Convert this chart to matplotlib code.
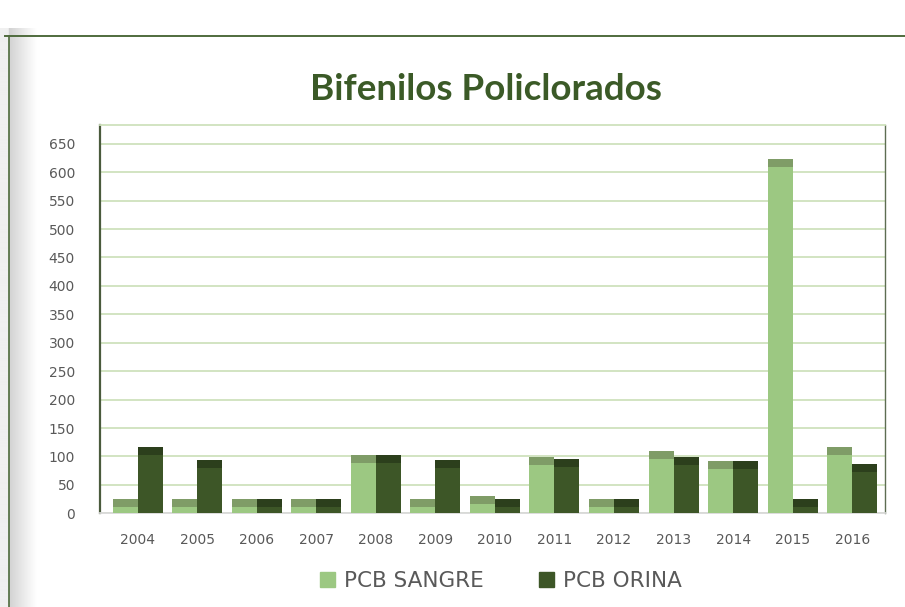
import numpy as np
import matplotlib
matplotlib.use("Agg")
import matplotlib.pyplot as plt

years = ["2004", "2005", "2006", "2007", "2008", "2009", "2010",
         "2011", "2012", "2013", "2014", "2015", "2016"]
pcb_sangre = [25, 25, 25, 26, 103, 25, 30, 99, 26, 109, 92, 624, 116]
pcb_orina = [117, 93, 25, 26, 103, 93, 25, 95, 26, 99, 92, 25, 86]
y_ticks = list(range(0, 651, 50))

SANGRE_FACE = "#9cc882"
SANGRE_TOP = "#7f9c67"
ORINA_FACE = "#3d5627"
ORINA_TOP = "#2c3f1c"
TITLE_GREEN = "#3b5a27"
GRID_GREEN = "#cfe2bd"
TEXT_GRAY = "#595959"

W, H = 905, 607
fig = plt.figure(figsize=(W / 100, H / 100), dpi=100)
fig.patch.set_facecolor("white")


def px(x0, y0, x1, y1):
    """pixel box (top-left origin) -> figure fraction rect"""
    return [x0 / W, 1 - y1 / H, (x1 - x0) / W, (y1 - y0) / H]


# grey shadow strip down the left edge
shade = fig.add_axes(px(0, 28, 40, H))
xs = np.linspace(0, 1, 200)
grad = np.ones((2, 200))
grad[:] = np.where(xs < 0.22, 0.94, 0.82 + 0.18 * np.clip((xs - 0.22) / 0.7, 0, 1))
shade.imshow(grad, cmap="gray", vmin=0, vmax=1, aspect="auto", extent=[0, 1, 0, 1])
shade.axis("off")

# frame lines
fig.add_artist(plt.Line2D([5 / W, 1], [1 - 36 / H, 1 - 36 / H], color="#4f6b3d", lw=1.4))
fig.add_artist(plt.Line2D([9 / W, 9 / W], [0, 1 - 36 / H], color="#4f6b3d", lw=1.2))

ax = fig.add_axes(px(100, 125, 885, 513.3))
x = np.arange(len(years))
bw = 0.42
cap_px = 8
ymax = 683
cap = cap_px / (513.3 - 125) * ymax

for vals, off, face, top in [(pcb_sangre, -bw / 2, SANGRE_FACE, SANGRE_TOP),
                             (pcb_orina, bw / 2, ORINA_FACE, ORINA_TOP)]:
    v = np.array(vals, dtype=float)
    ax.bar(x + off, v, width=bw, color=face, zorder=3)
    ax.bar(x + off, np.full_like(v, cap), bottom=v - cap, width=bw, color=top, zorder=4)

ax.set_xlim(-0.63, 12.55)
ax.set_ylim(0, ymax)
ax.set_yticks(y_ticks)
ax.set_xticks(x)
ax.set_xticklabels(years)
ax.tick_params(axis="both", length=0, labelsize=10, labelcolor=TEXT_GRAY)
ax.tick_params(axis="y", pad=18)
ax.tick_params(axis="x", pad=14)
ax.grid(axis="y", color=GRID_GREEN, lw=1.3, zorder=0)
ax.spines["left"].set_color("#4a5a3c")
ax.spines["left"].set_linewidth(1.6)
ax.spines["right"].set_color("#5d6d52")
ax.spines["right"].set_linewidth(1.0)
ax.spines["top"].set_color(GRID_GREEN)
ax.spines["top"].set_linewidth(1.3)
ax.spines["bottom"].set_color("#d9d9d9")
ax.spines["bottom"].set_linewidth(1.3)

fig.text(486 / W, 1 - 89 / H, "Bifenilos Policlorados", ha="center", va="center",
         fontsize=26.5, fontweight="bold", color=TITLE_GREEN, family="Lato")

# legend
handles = [plt.Rectangle((0, 0), 1, 1, color=SANGRE_FACE),
           plt.Rectangle((0, 0), 1, 1, color=ORINA_FACE)]
leg = fig.legend(handles, ["PCB SANGRE", "PCB ORINA"], loc="center",
                 bbox_to_anchor=(501 / W, 1 - 581 / H), ncol=2, frameon=False,
                 fontsize=15.5, handlelength=0.7, handleheight=0.7, handletextpad=0.4,
                 columnspacing=2.6)
for t in leg.get_texts():
    t.set_color(TEXT_GRAY)

fig.savefig("out.png", dpi=100)
